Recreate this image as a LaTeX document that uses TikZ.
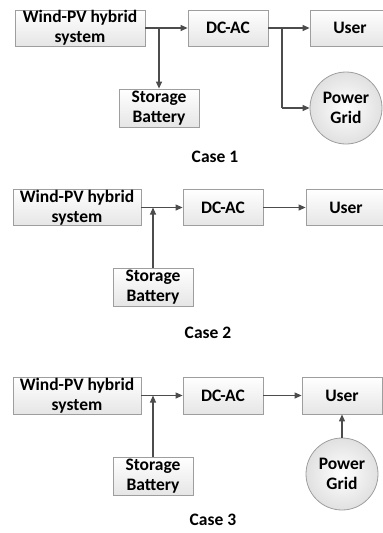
\documentclass[tikz,border=0pt]{standalone}
\usepackage{fontspec}
\setmainfont{Carlito}
\usetikzlibrary{arrows.meta}
\begin{document}
\begin{tikzpicture}[x=1pt,y=-1pt,
  box/.style={draw=black!38, line width=0.8pt, top color=white, bottom color=black!10,
    minimum height=36pt, inner sep=0pt, align=center,
    font=\fontsize{17.5}{20}\selectfont\bfseries},
  gridcircle/.style={circle, draw=black!38, line width=0.8pt, inner color=white, outer color=black!12,
    minimum size=72pt, inner sep=0pt, align=center,
    font=\fontsize{17.5}{20}\selectfont\bfseries},
  caselabel/.style={font=\fontsize{17.5}{20}\selectfont\bfseries},
  flow/.style={draw=black!70, line width=1.1pt, -{Triangle[length=7pt,width=6pt]}},
  wire/.style={draw=black!70, line width=1.1pt}]
\useasboundingbox (0,0) rectangle (383,533);
% Case 1
\node[box, minimum width=130pt] (w1) at (80,28) {Wind-PV hybrid\\system};
\node[box, minimum width=80pt] (d1) at (228,28) {DC-AC};
\node[box, minimum width=80pt] (u1) at (350,28) {User};
\node[box, minimum width=80pt, minimum height=38pt] (s1) at (159,108) {Storage\\Battery};
\node[gridcircle] (g1) at (346,108) {Power\\Grid};
\node[caselabel] (c1) at (215,157) {Case 1};
\coordinate (j1) at (s1.north |- w1.east);
\coordinate (k1) at (282,28);
\coordinate (m1) at (282,108);
\draw[flow] (w1.east) -- (d1.west);
\draw[flow] (j1) -- (s1.north);
\draw[flow] (d1.east) -- (u1.west);
\draw[wire] (k1) -- (m1);
\draw[flow] (m1) -- (g1.west);
% Case 2
\node[box, minimum width=128pt] (w2) at (77,207.5) {Wind-PV hybrid\\system};
\node[box, minimum width=80pt] (d2) at (223,207.5) {DC-AC};
\node[box, minimum width=80pt] (u2) at (346,207.5) {User};
\node[box, minimum width=80pt, minimum height=38pt] (s2) at (153,287) {Storage\\Battery};
\node[caselabel] (c2) at (208,333) {Case 2};
\coordinate (j2) at (s2.north |- w2.east);
\draw[flow] (w2.east) -- (d2.west);
\draw[flow] (s2.north) -- (j2);
\draw[flow] (d2.east) -- (u2.west);
% Case 3
\node[box, minimum width=128pt, minimum height=37pt] (w3) at (77,395.5) {Wind-PV hybrid\\system};
\node[box, minimum width=80pt, minimum height=37pt] (d3) at (223,395.5) {DC-AC};
\node[box, minimum width=80pt, minimum height=37pt] (u3) at (342,395.5) {User};
\node[box, minimum width=80pt, minimum height=38pt] (s3) at (153,476) {Storage\\Battery};
\node[gridcircle] (g3) at (342,474) {Power\\Grid};
\node[caselabel] (c3) at (213,520) {Case 3};
\coordinate (j3) at (s3.north |- w3.east);
\draw[flow] (w3.east) -- (d3.west);
\draw[flow] (s3.north) -- (j3);
\draw[flow] (d3.east) -- (u3.west);
\draw[flow] (g3.north) -- (u3.south);
\end{tikzpicture}
\end{document}
